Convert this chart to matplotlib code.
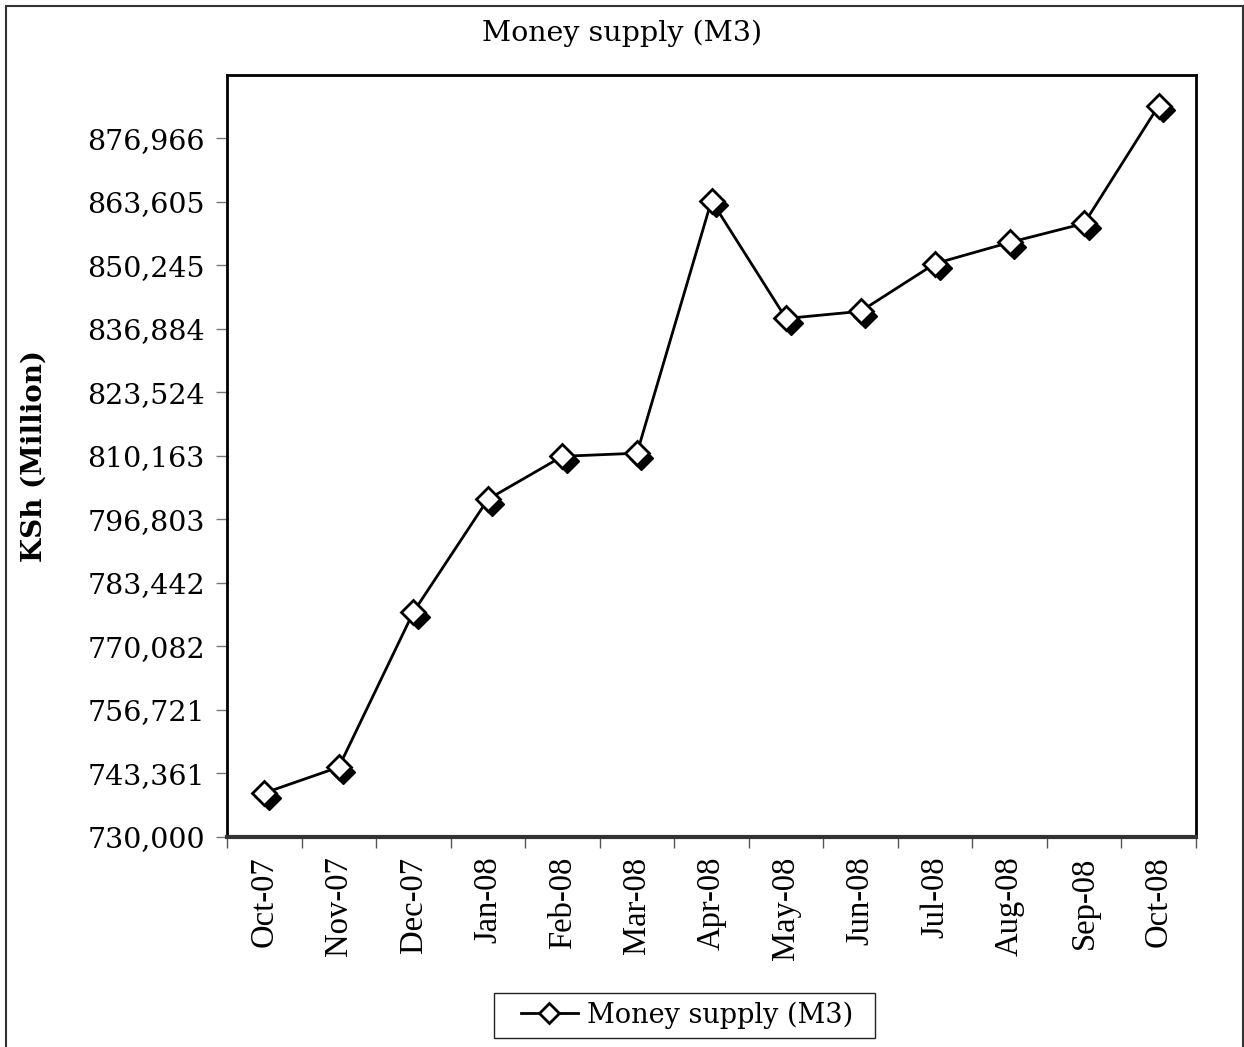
import matplotlib
matplotlib.use('Agg')
import matplotlib.pyplot as plt
import matplotlib.transforms as mtransforms
from matplotlib.patches import Rectangle
from matplotlib.lines import Line2D

# data
months = ['Oct-07', 'Nov-07', 'Dec-07', 'Jan-08', 'Feb-08', 'Mar-08', 'Apr-08',
          'May-08', 'Jun-08', 'Jul-08', 'Aug-08', 'Sep-08', 'Oct-08']
m3 = [739250, 744700, 777300, 801050, 810100, 810750, 863900,
      839100, 840600, 850650, 855100, 859100, 883900]
ytick_vals = [730000, 743361, 756721, 770082, 783442, 796803, 810163,
              823524, 836884, 850245, 863605, 876966]

plt.rcParams['font.family'] = ['DejaVu Serif']

W, H = 1244, 1047
fig = plt.figure(figsize=(W/100, H/100), dpi=100)
ax = fig.add_axes([227/W, 1-837/H, (1196-227)/W, (837-75)/H])

x = list(range(len(months)))
# black shadow diamond, shifted down-right
shadow = mtransforms.offset_copy(ax.transData, fig=fig, x=4.5, y=-4.5, units='dots')
ax.plot(x, m3, linestyle='none', marker='D', markersize=12, color='black',
        transform=shadow, zorder=3)
ax.plot(x, m3, color='black', lw=2, marker='D', markersize=12,
        markerfacecolor='white', markeredgecolor='black', markeredgewidth=2,
        zorder=4, label='Money supply (M3)')

ax.set_xlim(-0.5, len(months) - 0.5)
ax.set_ylim(730000, 730000 + 12 * 13360.5)
ax.set_yticks(ytick_vals)
ax.set_yticklabels(['{:,}'.format(v) for v in ytick_vals], fontsize=20.5)
ax.set_xticks(x)
ax.set_xticklabels(months, rotation=90, fontsize=23.5, family='Liberation Serif')
ax.tick_params(axis='x', length=0, pad=14)
ax.set_xticks([i - 0.5 for i in range(len(months) + 1)], minor=True)
ax.tick_params(axis='x', which='minor', length=8, width=1, color='#555555')
ax.tick_params(axis='y', length=8, width=1, color='#777777', pad=8)

for s in ax.spines.values():
    s.set_linewidth(2)
ax.spines['bottom'].set_linewidth(3)
ax.spines['bottom'].set_color('#333333')

ax.set_ylabel('KSh (Million)', fontsize=20, fontweight='bold')
ax.yaxis.set_label_coords(-0.185, 0.5)
fig.text(0.5, 1 - 33/H, 'Money supply (M3)', ha='center', va='center', fontsize=20.5)

# legend (box drawn separately)
h = Line2D([], [], color='black', lw=2, marker='D', markersize=10,
           markerfacecolor='white', markeredgewidth=2)
leg = fig.legend([h], ['Money supply (M3)'], loc='center', bbox_to_anchor=(687/W, 1 - 1015/H),
                 fontsize=19.5, frameon=False, handlelength=2.1, handletextpad=0.35)
fig.patches.append(Rectangle((494/W, 1 - 1038/H), 381/W, 45/H, transform=fig.transFigure,
                             fill=False, edgecolor='#222222', lw=1))

# chart area border
fig.patches.append(Rectangle((6/W, -0.01), 1237/W, 1.01 - 6/H, transform=fig.transFigure,
                             fill=False, edgecolor='#333333', lw=1.5))

fig.savefig('out.png', dpi=100)
